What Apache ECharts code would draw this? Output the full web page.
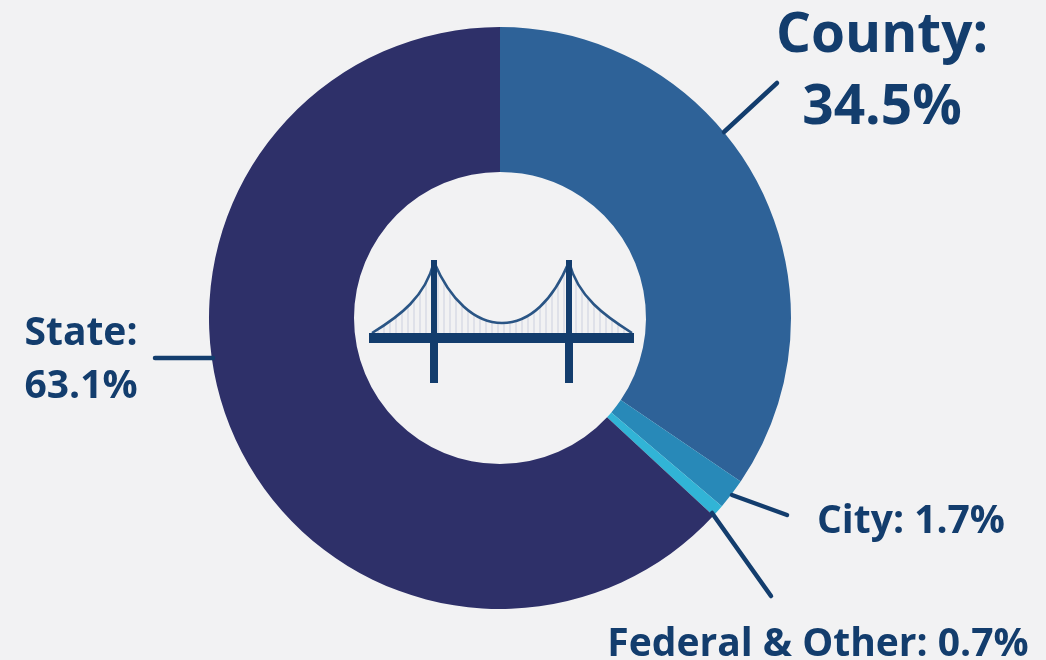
<!DOCTYPE html>
<html>
<head>
<meta charset="utf-8">
<style>
  html, body { margin: 0; padding: 0; background: #f2f2f3; }
  #chart { width: 1046px; height: 660px; }
</style>
<script src="https://cdn.jsdelivr.net/npm/echarts@6/dist/echarts.min.js"></script>
</head>
<body>
<div id="chart"></div>
<script>
// funding shares, clockwise from 12 o'clock
const names = ['County', 'City', 'Federal & Other', 'State'];
const shares = [34.5, 1.7, 0.7, 63.1];
const colors = ['#2e6298', '#2889b8', '#31b4d6', '#2e3069'];

const ink = '#133d6d';
const labelFont = 'Open Sans';

// label styling per slice
const labelSizes = [55, 39, 39, 39];
const labelLineHeights = [72, 50, 50, 53];
const labelSpots = [
  { x: 882, y: 72 },
  { x: 911, y: 522 },
  { x: 818, y: 645 },
  { x: 81, y: 360 }
];
const leaders = [
  [[724, 132], [777, 83]],
  [[732, 495], [787, 515]],
  [[712, 513], [771, 596]],
  [[213, 358], [155, 358]]
];

// bridge icon
const cables = [
  [[372, 333], [400, 316], [425, 297], [434, 262]],
  [[434, 262], [450, 300], [475, 323], [502, 323]],
  [[502, 323], [530, 323], [553, 300], [569, 262]],
  [[569, 262], [578, 297], [605, 316], [632, 333]]
];

function bez(p, t) {
  const u = 1 - t;
  return [0, 1].map(i => u*u*u*p[0][i] + 3*u*u*t*p[1][i] + 3*u*t*t*p[2][i] + t*t*t*p[3][i]);
}

function cableY(x) {
  for (const seg of cables) {
    if (x < seg[0][0] || x > seg[3][0]) continue;
    let best = seg[0], gap = Infinity;
    for (let t = 0; t <= 1; t += 0.01) {
      const pt = bez(seg, t);
      if (Math.abs(pt[0] - x) < gap) { gap = Math.abs(pt[0] - x); best = pt; }
    }
    return best[1];
  }
  return 333;
}

const bridge = [];
for (let x = 378; x < 630; x += 6) {
  bridge.push({
    type: 'line', z: 10,
    shape: { x1: x, y1: cableY(x), x2: x, y2: 334 },
    style: { stroke: '#d9dbe6', lineWidth: 1.5 }
  });
}
cables.forEach(s => {
  bridge.push({
    type: 'bezierCurve', z: 11,
    shape: {
      x1: s[0][0], y1: s[0][1],
      cpx1: s[1][0], cpy1: s[1][1],
      cpx2: s[2][0], cpy2: s[2][1],
      x2: s[3][0], y2: s[3][1]
    },
    style: { fill: null, stroke: '#2a5585', lineWidth: 2.6 }
  });
});
bridge.push({ type: 'rect', z: 12, shape: { x: 369, y: 333, width: 265, height: 10 }, style: { fill: ink } });
[434, 569].forEach(x => {
  bridge.push({ type: 'rect', z: 12, shape: { x: x - 3, y: 260, width: 6, height: 75 }, style: { fill: ink } });
  bridge.push({ type: 'rect', z: 12, shape: { x: x - 4, y: 335, width: 8, height: 48 }, style: { fill: ink } });
});

const leaderLines = leaders.map(l => ({
  type: 'line', z: 10,
  shape: { x1: l[0][0], y1: l[0][1], x2: l[1][0], y2: l[1][1] },
  style: { stroke: ink, lineWidth: 4.5, lineCap: 'round' }
}));

const chart = echarts.init(document.getElementById('chart'));
chart.setOption({
  backgroundColor: '#f2f2f3',
  animation: false,
  graphic: leaderLines.concat(bridge),
  series: [{
    type: 'pie',
    center: [500, 318],
    radius: [146, 291],
    startAngle: 90,
    clockwise: true,
    data: names.map((name, i) => ({
      name: name,
      value: shares[i],
      itemStyle: { color: colors[i] },
      label: { fontSize: labelSizes[i], lineHeight: labelLineHeights[i] }
    })),
    label: {
      show: true,
      position: 'outside',
      formatter: p => {
        const multi = p.name === 'County' || p.name === 'State';
        return p.name + ':' + (multi ? '\n' : ' ') + p.value + '%';
      },
      fontFamily: labelFont,
      fontWeight: 'bold',
      color: ink,
      width: 500,
      overflow: 'none'
    },
    labelLine: { show: false },
    labelLayout: params => {
      const spot = labelSpots[params.dataIndex];
      return { x: spot.x, y: spot.y, align: 'center', verticalAlign: 'middle' };
    }
  }]
});
</script>
</body>
</html>
